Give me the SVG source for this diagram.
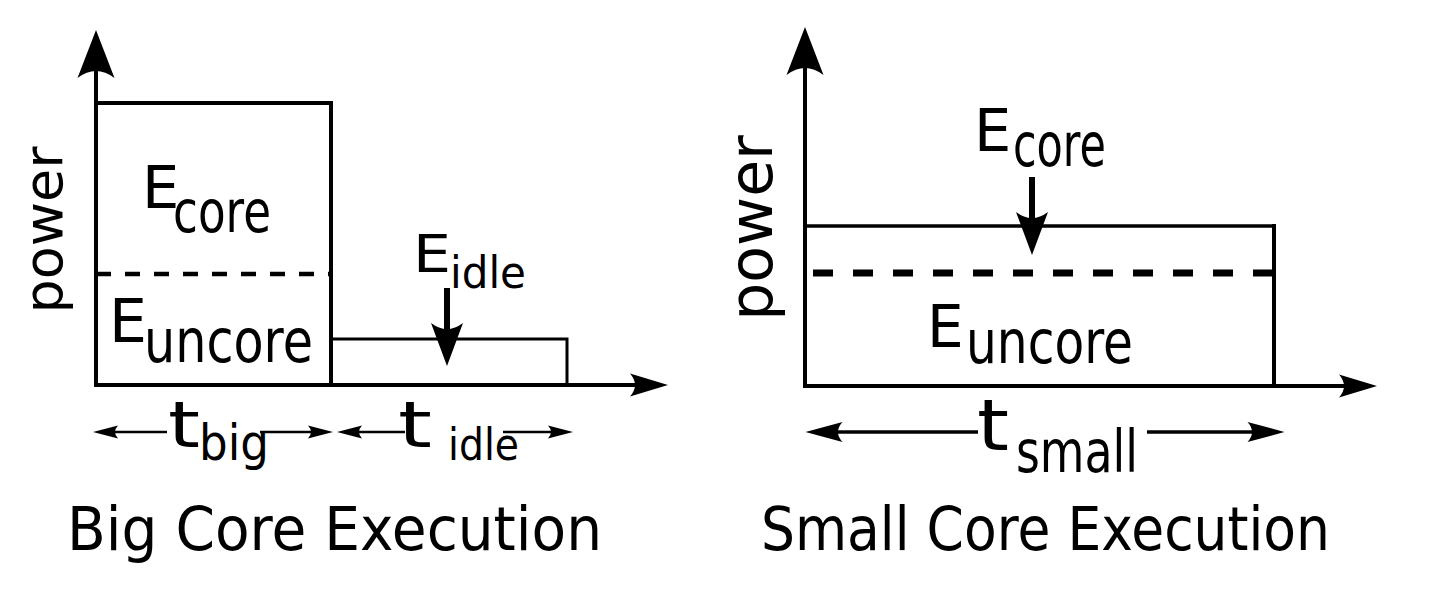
<svg xmlns="http://www.w3.org/2000/svg" width="1434" height="602" viewBox="0 0 1434 602">
<style>
.ln{stroke:#000;fill:none;stroke-linecap:butt}
.t{font-family:"DejaVu Sans","Liberation Sans",sans-serif;fill:#000}
</style>
<defs>
<marker id="yHead" markerUnits="userSpaceOnUse" markerWidth="48" markerHeight="37" refX="7" refY="18.5" orient="auto" overflow="visible"><path d="M0,0 L48,18.5 L0,37 Q14,18.5 0,0 Z" fill="#000"/></marker>
<marker id="xHead" markerUnits="userSpaceOnUse" markerWidth="38" markerHeight="23" refX="5" refY="11.5" orient="auto" overflow="visible"><path d="M0,0 L38,11.5 L0,23 Q10,11.5 0,0 Z" fill="#000"/></marker>
<marker id="downHead" markerUnits="userSpaceOnUse" markerWidth="43" markerHeight="32" refX="6" refY="16" orient="auto" overflow="visible"><path d="M0,0 L43,16 L0,32 Q12,16 0,0 Z" fill="#000"/></marker>
<marker id="dimS" markerUnits="userSpaceOnUse" markerWidth="25" markerHeight="13" refX="3" refY="6.5" orient="auto" overflow="visible"><path d="M0,0 L25,6.5 L0,13 Q6,6.5 0,0 Z" fill="#000"/></marker>
<marker id="dimL" markerUnits="userSpaceOnUse" markerWidth="37" markerHeight="20" refX="4.5" refY="10" orient="auto" overflow="visible"><path d="M0,0 L37,10 L0,20 Q9,10 0,0 Z" fill="#000"/></marker>
</defs>
<rect width="1434" height="602" fill="#fff"/>

<g id="big-chart">
<path class="ln" d="M96,103 H331 V386" stroke-width="4"/>
<line class="ln" x1="96" y1="274" x2="331" y2="274" stroke-width="4.5" stroke-dasharray="15 14"/>
<path class="ln" d="M331,339 H567 V386" stroke-width="3"/>
<text class="t" x="62" y="230" font-size="54" text-anchor="middle" transform="rotate(-90 62 230)">power</text>
<text class="t" x="142" y="208" font-size="59">E</text>
<text class="t" x="173" y="232" font-size="59" textLength="98" lengthAdjust="spacingAndGlyphs">core</text>
<text class="t" x="109" y="342" font-size="60">E</text>
<text class="t" x="144" y="362" font-size="61" textLength="169" lengthAdjust="spacingAndGlyphs">uncore</text>
<text class="t" x="413" y="272" font-size="51" textLength="38" lengthAdjust="spacingAndGlyphs">E</text>
<text class="t" x="450" y="288" font-size="44" textLength="76" lengthAdjust="spacingAndGlyphs">idle</text>
<text class="t" x="168" y="447" font-size="64" textLength="32" lengthAdjust="spacingAndGlyphs">t</text>
<text class="t" x="199" y="460" font-size="49" textLength="70" lengthAdjust="spacingAndGlyphs">big</text>
<text class="t" x="398" y="447" font-size="64" textLength="34" lengthAdjust="spacingAndGlyphs">t</text>
<text class="t" x="448" y="460" font-size="44" textLength="71" lengthAdjust="spacingAndGlyphs">idle</text>
<text class="t" x="67" y="550" font-size="60" textLength="535" lengthAdjust="spacingAndGlyphs">Big Core Execution</text>
</g>

<g id="small-chart">
<line class="ln" x1="805" y1="226" x2="1274" y2="226" stroke-width="3.5"/>
<line class="ln" x1="1274" y1="224" x2="1274" y2="387" stroke-width="4"/>
<line class="ln" x1="813" y1="273" x2="1274" y2="273" stroke-width="7" stroke-dasharray="20 20"/>
<text class="t" x="772" y="228" font-size="60" text-anchor="middle" transform="rotate(-90 772 228)">power</text>
<text class="t" x="974" y="151" font-size="59">E</text>
<text class="t" x="1013" y="166" font-size="60" textLength="93" lengthAdjust="spacingAndGlyphs">core</text>
<text class="t" x="927" y="347" font-size="58">E</text>
<text class="t" x="966" y="363" font-size="60" textLength="167" lengthAdjust="spacingAndGlyphs">uncore</text>
<text class="t" x="977" y="450" font-size="72" textLength="32" lengthAdjust="spacingAndGlyphs">t</text>
<text class="t" x="1016" y="472" font-size="58" textLength="122" lengthAdjust="spacingAndGlyphs">small</text>
<text class="t" x="761" y="550" font-size="60" textLength="569" lengthAdjust="spacingAndGlyphs">Small Core Execution</text>
</g>

<g id="connectors">
<line class="ln" x1="96" y1="387" x2="96" y2="71" stroke-width="4" marker-end="url(#yHead)"/>
<line class="ln" x1="94" y1="385" x2="635" y2="385" stroke-width="4" marker-end="url(#xHead)"/>
<line class="ln" x1="447" y1="288" x2="447" y2="329" stroke-width="6" marker-end="url(#downHead)"/>
<line class="ln" x1="167" y1="432" x2="115" y2="432" stroke-width="2.5" marker-end="url(#dimS)"/>
<line class="ln" x1="260" y1="432" x2="311" y2="432" stroke-width="2.5" marker-end="url(#dimS)"/>
<line class="ln" x1="405" y1="432" x2="359" y2="432" stroke-width="2.5" marker-end="url(#dimS)"/>
<line class="ln" x1="503" y1="432" x2="551" y2="432" stroke-width="2.5" marker-end="url(#dimS)"/>
<line class="ln" x1="805" y1="388" x2="805" y2="68" stroke-width="4" marker-end="url(#yHead)"/>
<line class="ln" x1="803" y1="386" x2="1344" y2="386" stroke-width="4" marker-end="url(#xHead)"/>
<line class="ln" x1="1032" y1="177" x2="1032" y2="218" stroke-width="6" marker-end="url(#downHead)"/>
<line class="ln" x1="978" y1="432" x2="838" y2="432" stroke-width="3.5" marker-end="url(#dimL)"/>
<line class="ln" x1="1147" y1="432" x2="1252" y2="432" stroke-width="3.5" marker-end="url(#dimL)"/>
</g>
</svg>
